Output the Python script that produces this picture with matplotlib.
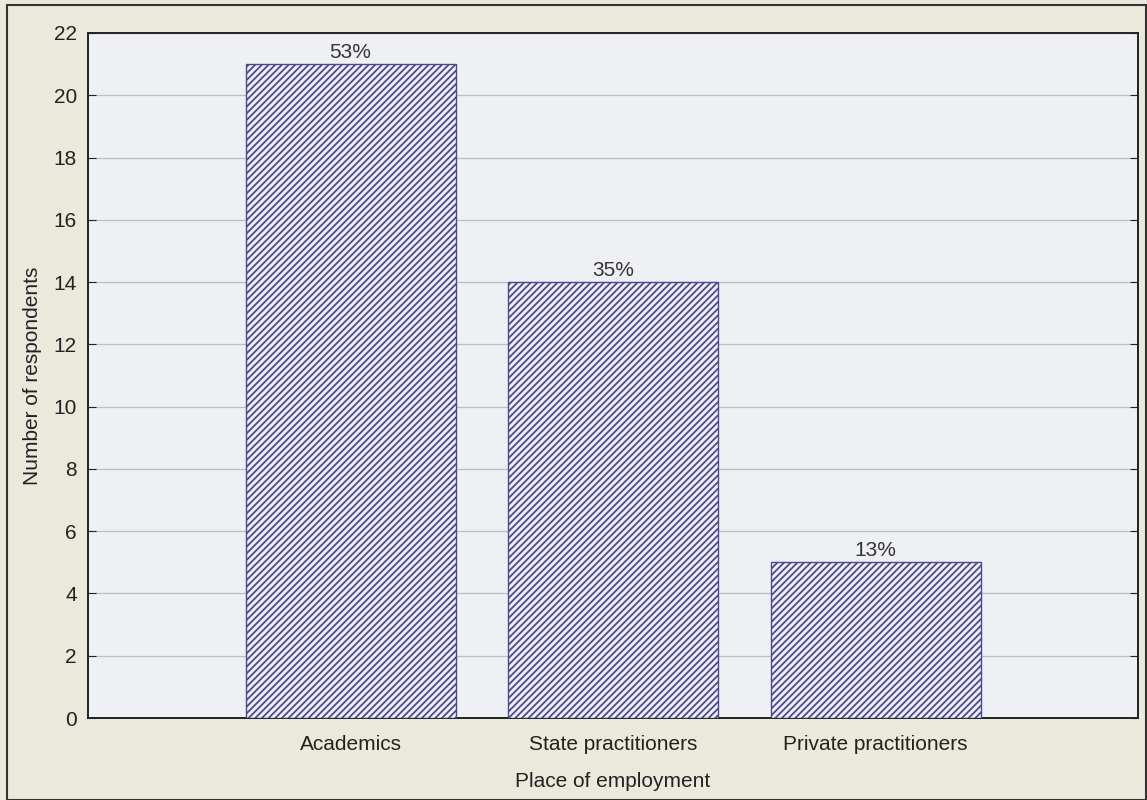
import matplotlib
matplotlib.use("Agg")
import matplotlib.pyplot as plt
from matplotlib.patches import Rectangle

categories = ["Academics", "State practitioners", "Private practitioners"]
counts = [21, 14, 5]
pct_labels = ["53%", "35%", "13%"]
yticks = [0, 2, 4, 6, 8, 10, 12, 14, 16, 18, 20, 22]

plt.rcParams['font.family'] = ['Liberation Sans', 'DejaVu Sans']
plt.rcParams['hatch.linewidth'] = 1.3
plt.rcParams['hatch.color'] = '#5c5e86'

fig = plt.figure(figsize=(11.47, 8.0), dpi=100, facecolor='#ebe9dc')
ax = fig.add_axes([88/1147, 1-718/800, (1138-88)/1147, (718-33)/800])
ax.set_facecolor('#eff0f3')

x = list(range(len(categories)))
bars = ax.bar(x, counts, width=0.8, color='#eeeff6', edgecolor='#4a4a8c',
              hatch='/////', linewidth=1.0, zorder=3)
for b, lab in zip(bars, pct_labels):
    ax.text(b.get_x() + b.get_width()/2, b.get_height() + 0.08, lab,
            ha='center', va='bottom', fontsize=15, color='#333333', zorder=4)

ax.set_xlim(-1, 3.0)
ax.set_ylim(0, 22)
ax.set_yticks(yticks)
ax.set_xticks(x)
ax.set_xticklabels(categories)
ax.tick_params(axis='y', direction='in', length=6, right=True, labelsize=15,
               colors='#222222', pad=8)
ax.tick_params(axis='x', length=0, labelsize=15, colors='#222222', pad=12)
ax.yaxis.grid(True, color='#b9bccb', linewidth=0.9, zorder=0)
ax.set_axisbelow(True)
for s in ax.spines.values():
    s.set_color('#222222')
    s.set_linewidth(1.4)

ax.set_xlabel("Place of employment", fontsize=15, color='#222222', labelpad=13)
ax.set_ylabel("Number of respondents", fontsize=15, color='#222222', labelpad=8)

# outer frame
fig.patches.append(Rectangle((7/1147, 0), 1 - 7/1147 - 0.001, 1 - 5/800,
                             transform=fig.transFigure, fill=False,
                             edgecolor='#333333', linewidth=1.5))

fig.savefig("out.png", dpi=100, facecolor=fig.get_facecolor())
